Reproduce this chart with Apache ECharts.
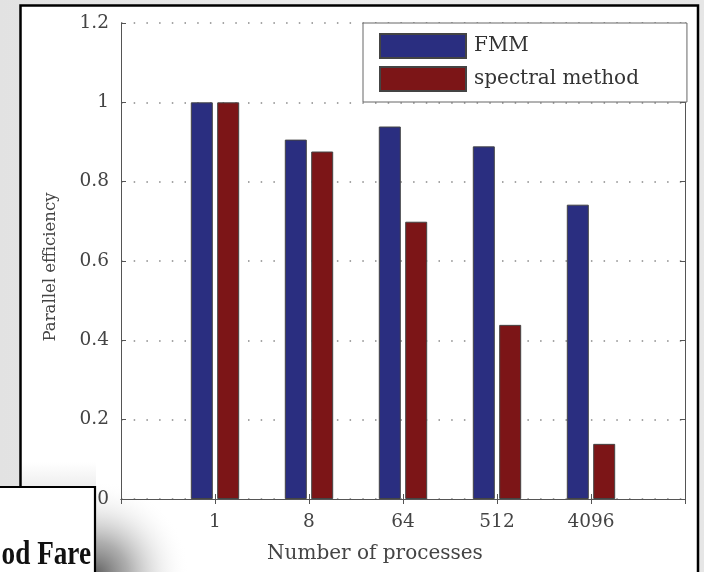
<!DOCTYPE html>
<html>
<head>
<meta charset="utf-8">
<script src="https://cdn.jsdelivr.net/npm/echarts@6/dist/echarts.min.js"></script>
<style>html,body{margin:0;padding:0;background:#ececec;}#c{width:704px;height:572px;}</style>
</head>
<body>
<div id="c"></div>
<script>
var categories = ['', '1', '8', '64', '512', '4096', ''];
var fmmValues = [null, 1.0, 0.906, 0.939, 0.889, 0.742, null];
var spectralValues = [null, 1.0, 0.876, 0.699, 0.439, 0.139, null];
var seriesNames = ['FMM', 'spectral method'];
var xAxisTitle = 'Number of processes';
var yAxisTitle = 'Parallel efficiency';
var snippetText = 'od Fare';

var FONT = 'DejaVu Serif';
var TXT = '#444';
var AX = '#555';

var chart = echarts.init(document.getElementById('c'), null, {renderer: 'canvas'});
var axisTickInside = {show: true, inside: true, length: 5, lineStyle: {color: AX}};
chart.setOption({
  backgroundColor: {
    type: 'linear', x: 0, y: 0, x2: 1, y2: 0,
    colorStops: [{offset: 0, color: '#e2e2e2'}, {offset: 0.5, color: '#ececec'}, {offset: 1, color: '#e6e6e6'}]
  },
  animation: false,
  graphic: [
    {type: 'rect', z: -5, shape: {x: 20.5, y: 5.5, width: 677.5, height: 600},
     style: {fill: '#fff', stroke: '#000', lineWidth: 2.5}},
    {type: 'rect', z: -4, shape: {x: 22, y: 462, width: 74, height: 26},
     style: {fill: {type: 'linear', x: 0, y: 0, x2: 0, y2: 1,
       colorStops: [{offset: 0, color: 'rgba(225,225,225,0)'}, {offset: 1, color: 'rgba(225,225,225,0.6)'}]}}},
    {type: 'rect', z: -4, shape: {x: 95, y: 470, width: 95, height: 105},
     style: {fill: {type: 'radial', x: 0, y: 1, r: 1,
       colorStops: [{offset: 0, color: 'rgba(85,85,85,0.95)'}, {offset: 0.35, color: 'rgba(140,140,140,0.7)'},
                    {offset: 0.7, color: 'rgba(210,210,210,0.35)'}, {offset: 1, color: 'rgba(255,255,255,0)'}]}}},
    {type: 'rect', z: 10, shape: {x: -2, y: 487, width: 97, height: 90},
     style: {fill: '#fff', stroke: '#000', lineWidth: 2.2}},
    {type: 'text', z: 11, x: 91, y: 538, scaleX: 0.8,
     style: {text: snippetText, x: 0, y: 0, align: 'right', verticalAlign: 'top',
             fill: '#111', font: 'bold 34px "Liberation Serif"'}}
  ],
  grid: {left: 121, right: 19, top: 23, bottom: 73, containLabel: false},
  legend: {
    data: seriesNames,
    orient: 'vertical',
    left: 363, top: 23,
    itemWidth: 86, itemHeight: 24, itemGap: 7,
    padding: [10, 48, 10, 16],
    borderColor: '#666', borderWidth: 1,
    backgroundColor: '#fff',
    icon: 'rect',
    textStyle: {fontFamily: FONT, fontSize: 20, color: '#333', padding: [0, 0, 0, 3]}
  },
  xAxis: [{
    type: 'category', data: categories, boundaryGap: false, position: 'bottom',
    name: xAxisTitle, nameLocation: 'middle', nameGap: 45,
    nameTextStyle: {fontFamily: FONT, fontSize: 20, color: TXT, padding: [0, 56, 0, 0]},
    axisLine: {show: true, lineStyle: {color: AX, width: 1}},
    axisTick: axisTickInside,
    axisLabel: {fontFamily: FONT, fontSize: 18.5, color: TXT, margin: 14},
    splitLine: {show: false}
  }, {
    type: 'category', data: categories, boundaryGap: false, position: 'top',
    axisLine: {show: true, lineStyle: {color: AX, width: 1}},
    axisTick: axisTickInside,
    axisLabel: {show: false},
    splitLine: {show: false}
  }],
  yAxis: [{
    type: 'value', min: 0, max: 1.2, interval: 0.2, position: 'left',
    name: yAxisTitle, nameLocation: 'middle', nameGap: 62, nameRotate: 90,
    nameTextStyle: {fontFamily: FONT, fontSize: 16.5, color: TXT, padding: [0, 12, 0, 0]},
    axisLine: {show: true, lineStyle: {color: AX, width: 1}},
    axisTick: axisTickInside,
    axisLabel: {fontFamily: FONT, fontSize: 18.5, color: TXT, margin: 12},
    splitLine: {show: true, lineStyle: {color: '#888', type: [1.5, 11.2], width: 1.5}}
  }, {
    type: 'value', min: 0, max: 1.2, interval: 0.2, position: 'right',
    axisLine: {show: true, lineStyle: {color: AX, width: 1}},
    axisTick: axisTickInside,
    axisLabel: {show: false},
    splitLine: {show: false}
  }],
  series: [{
    name: seriesNames[0], type: 'bar', data: fmmValues,
    barWidth: 22, barGap: '20%',
    itemStyle: {color: '#2a2e80', borderColor: '#444', borderWidth: 1}
  }, {
    name: seriesNames[1], type: 'bar', data: spectralValues,
    barWidth: 22,
    itemStyle: {color: '#7c1517', borderColor: '#444', borderWidth: 1}
  }]
});
</script>
</body>
</html>
